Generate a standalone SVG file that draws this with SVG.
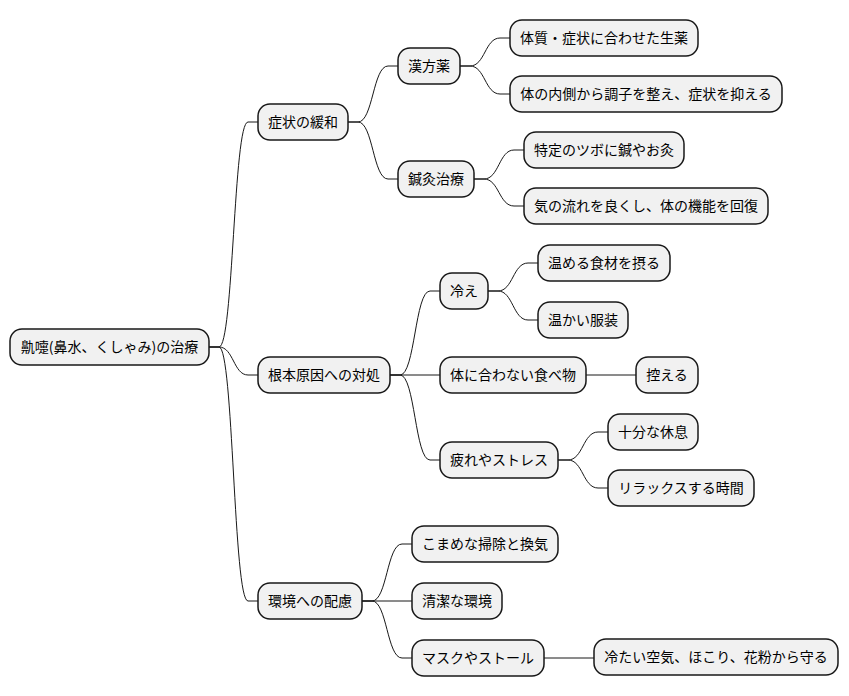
<svg xmlns="http://www.w3.org/2000/svg" width="849" height="696" viewBox="0 0 849 696">
<style>
.n rect{fill:#F1F1F1;stroke:#181818;stroke-width:1.5}
.n text{font-family:"Noto Sans CJK JP","Noto Sans CJK SC",sans-serif;font-size:14px;fill:#000;text-anchor:middle}
#edges path{fill:none;stroke:#181818;stroke-width:1}
</style>
<rect width="849" height="696" fill="#fff"/>
<g id="edges">
<path d="M209,347 H219 C233.5,347 233.5,122 248,122 H258"/>
<path d="M209,347 H219 C233.5,347 233.5,375 248,375 H258"/>
<path d="M209,347 H219 C233.5,347 233.5,601 248,601 H258"/>
<path d="M348,122 H358 C373,122 373,66 388,66 H398"/>
<path d="M348,122 H358 C373,122 373,179 388,179 H398"/>
<path d="M460,66 H470 C485,66 485,38 500,38 H510"/>
<path d="M460,66 H470 C485,66 485,94 500,94 H510"/>
<path d="M474,179 H484 C499,179 499,150 514,150 H524"/>
<path d="M474,179 H484 C499,179 499,206 514,206 H524"/>
<path d="M390,375 H400 C415,375 415,291 430,291 H440"/>
<path d="M390,375 H440"/>
<path d="M390,375 H400 C415,375 415,460 430,460 H440"/>
<path d="M488,291 H498 C513,291 513,263 528,263 H538"/>
<path d="M488,291 H498 C513,291 513,320 528,320 H538"/>
<path d="M586,375 H636"/>
<path d="M558,460 H568 C583,460 583,432 598,432 H608"/>
<path d="M558,460 H568 C583,460 583,488 598,488 H608"/>
<path d="M362,601 H372 C387,601 387,544 402,544 H412"/>
<path d="M362,601 H412"/>
<path d="M362,601 H372 C387,601 387,658 402,658 H412"/>
<path d="M544,658 H594"/>
</g>
<g id="root" class="n"><rect x="10" y="329" width="199" height="36" rx="12"/><text x="109.5" y="352">鼽嚏(鼻水、くしゃみ)の治療</text></g>
<g id="n_a" class="n"><rect x="258" y="104" width="90" height="36" rx="12"/><text x="303" y="127">症状の緩和</text></g>
<g id="n_b" class="n"><rect x="258" y="357" width="132" height="36" rx="12"/><text x="324" y="380">根本原因への対処</text></g>
<g id="n_c" class="n"><rect x="258" y="583" width="104" height="36" rx="12"/><text x="310" y="606">環境への配慮</text></g>
<g id="n_a1" class="n"><rect x="398" y="48" width="62" height="36" rx="12"/><text x="429" y="71">漢方薬</text></g>
<g id="n_a2" class="n"><rect x="398" y="161" width="76" height="36" rx="12"/><text x="436" y="184">鍼灸治療</text></g>
<g id="n_a1a" class="n"><rect x="510" y="20" width="188" height="36" rx="12"/><text x="604" y="43">体質・症状に合わせた生薬</text></g>
<g id="n_a1b" class="n"><rect x="510" y="76" width="272" height="36" rx="12"/><text x="646" y="99">体の内側から調子を整え、症状を抑える</text></g>
<g id="n_a2a" class="n"><rect x="524" y="132" width="160" height="36" rx="12"/><text x="604" y="155">特定のツボに鍼やお灸</text></g>
<g id="n_a2b" class="n"><rect x="524" y="188" width="244" height="36" rx="12"/><text x="646" y="211">気の流れを良くし、体の機能を回復</text></g>
<g id="n_b1" class="n"><rect x="440" y="273" width="48" height="36" rx="12"/><text x="464" y="296">冷え</text></g>
<g id="n_b2" class="n"><rect x="440" y="357" width="146" height="36" rx="12"/><text x="513" y="380">体に合わない食べ物</text></g>
<g id="n_b3" class="n"><rect x="440" y="442" width="118" height="36" rx="12"/><text x="499" y="465">疲れやストレス</text></g>
<g id="n_b1a" class="n"><rect x="538" y="245" width="132" height="36" rx="12"/><text x="604" y="268">温める食材を摂る</text></g>
<g id="n_b1b" class="n"><rect x="538" y="302" width="90" height="36" rx="12"/><text x="583" y="325">温かい服装</text></g>
<g id="n_b2a" class="n"><rect x="636" y="357" width="62" height="36" rx="12"/><text x="667" y="380">控える</text></g>
<g id="n_b3a" class="n"><rect x="608" y="414" width="90" height="36" rx="12"/><text x="653" y="437">十分な休息</text></g>
<g id="n_b3b" class="n"><rect x="608" y="470" width="146" height="36" rx="12"/><text x="681" y="493">リラックスする時間</text></g>
<g id="n_c1" class="n"><rect x="412" y="526" width="146" height="36" rx="12"/><text x="485" y="549">こまめな掃除と換気</text></g>
<g id="n_c2" class="n"><rect x="412" y="583" width="90" height="36" rx="12"/><text x="457" y="606">清潔な環境</text></g>
<g id="n_c3" class="n"><rect x="412" y="640" width="132" height="36" rx="12"/><text x="478" y="663">マスクやストール</text></g>
<g id="n_c3a" class="n"><rect x="594" y="639" width="244" height="36" rx="12"/><text x="716" y="662">冷たい空気、ほこり、花粉から守る</text></g>
</svg>
